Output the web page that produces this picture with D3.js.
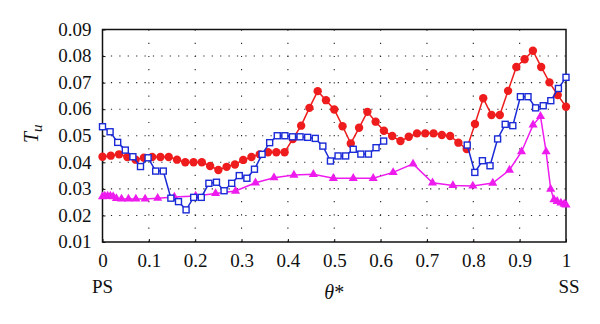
<!DOCTYPE html>
<html>
<head>
<meta charset="utf-8">
<script src="https://cdn.jsdelivr.net/npm/d3@7"></script>
<style>
  html, body { margin: 0; padding: 0; background: #fff; }
  svg { display: block; }
  text { font-family: "Liberation Serif", "DejaVu Serif", "Times New Roman", Times, serif; fill: #111; }
</style>
</head>
<body>
<svg id="chart" width="600" height="324"></svg>
<script>
// Turbulence intensity Tu around the blade surface (θ* from PS to SS)
const xTicks = [0, 0.1, 0.2, 0.3, 0.4, 0.5, 0.6, 0.7, 0.8, 0.9, 1];
const xTickLabels = ["0", "0.1", "0.2", "0.3", "0.4", "0.5", "0.6", "0.7", "0.8", "0.9", "1"];
const yTicks = [0.01, 0.02, 0.03, 0.04, 0.05, 0.06, 0.07, 0.08, 0.09];
const yTickLabels = ["0.01", "0.02", "0.03", "0.04", "0.05", "0.06", "0.07", "0.08", "0.09"];

// Red series: 57 equally spaced stations (i / 56)
const redTu = [
  0.0421, 0.0425, 0.0430, 0.0420, 0.0410, 0.0417, 0.0420, 0.0420, 0.0420, 0.0410,
  0.0400, 0.0400, 0.0400, 0.0386, 0.0371, 0.0383, 0.0392, 0.0409, 0.0420, 0.0430,
  0.0438, 0.0438, 0.0438, 0.0488, 0.0538, 0.0605, 0.0668, 0.0634, 0.0599, 0.0536,
  0.0471, 0.0530, 0.0590, 0.0553, 0.0519, 0.0499, 0.0480, 0.0496, 0.0509, 0.0509,
  0.0509, 0.0503, 0.0499, 0.0474, 0.0450, 0.0544, 0.0641, 0.0578, 0.0578, 0.0669,
  0.0759, 0.0788, 0.0820, 0.0759, 0.0701, 0.0653, 0.0609
];

// Blue series: 62 equally spaced stations (i / 61), no data between 0.62 and 0.77
const blueTu = [
  0.0534, 0.0515, 0.0475, 0.0446, 0.0421, 0.0384, 0.0417, 0.0367, 0.0367, 0.0265,
  0.0252, 0.0221, 0.0268, 0.0268, 0.0321, 0.0325, 0.0293, 0.0321, 0.0350, 0.0340,
  0.0374, 0.0430, 0.0474, 0.0500, 0.0500, 0.0496, 0.0496, 0.0494, 0.0490, 0.0461,
  0.0405, 0.0424, 0.0424, 0.0449, 0.0431, 0.0431, 0.0455, 0.0480,
  null, null, null, null, null, null, null, null, null, null,
  0.0465, 0.0362, 0.0406, 0.0387, 0.0488, 0.0543, 0.0538, 0.0647, 0.0647, 0.0605,
  0.0613, 0.0632, 0.0678, 0.0720
];

// Magenta series: stations clustered near both ends
const magentaTheta = [
  0, 0.005, 0.011, 0.017, 0.023, 0.030, 0.041, 0.056, 0.072, 0.092,
  0.119, 0.155, 0.201, 0.244, 0.287, 0.330, 0.370, 0.413, 0.455, 0.498,
  0.541, 0.584, 0.627, 0.670, 0.712, 0.756, 0.799, 0.842, 0.878, 0.904,
  0.929, 0.945, 0.957, 0.967, 0.974, 0.981, 0.989, 0.996, 1.0
];
const magentaTu = [
  0.0271, 0.0273, 0.0273, 0.0273, 0.0271, 0.0264, 0.0262, 0.0262, 0.0262, 0.0262,
  0.0265, 0.0269, 0.0273, 0.0283, 0.0292, 0.0323, 0.0342, 0.0352, 0.0355, 0.0340,
  0.0340, 0.0340, 0.0362, 0.0394, 0.0323, 0.0313, 0.0311, 0.0322, 0.0371, 0.0440,
  0.0541, 0.0573, 0.0440, 0.0299, 0.0260, 0.0253, 0.0247, 0.0243, 0.0240
];

const red = redTu.map((v, i) => ({ x: i / 56, y: v }));
const blue = blueTu.map((v, i) => ({ x: i / 61, y: v }));
const magenta = magentaTu.map((v, i) => ({ x: magentaTheta[i], y: v }));

const FONT = "'Liberation Serif', 'DejaVu Serif', 'Times New Roman', Times, serif";
const svg = d3.select("#chart").attr("font-family", FONT);
const plotLeft = 102.5, plotRight = 566, plotTop = 29.5, plotBottom = 242;

const x = d3.scaleLinear().domain([0, 1]).range([plotLeft, plotRight]);
const y = d3.scaleLinear().domain([0.01, 0.09]).range([plotBottom, plotTop]);

// dotted grid
const grid = svg.append("g");
grid.selectAll("line.h").data(yTicks.slice(1, -1)).join("line")
  .attr("class", "h")
  .attr("x1", plotLeft).attr("x2", plotRight)
  .attr("y1", d => y(d)).attr("y2", d => y(d))
  .attr("stroke", "#222").attr("stroke-width", 1.1)
  .attr("stroke-dasharray", "1.2,7.2");
grid.selectAll("line.v").data(xTicks.slice(1, -1)).join("line")
  .attr("class", "v")
  .attr("x1", d => x(d)).attr("x2", d => x(d))
  .attr("y1", plotTop).attr("y2", plotBottom)
  .attr("stroke", "#222").attr("stroke-width", 1.1)
  .attr("stroke-dasharray", "1.2,12");

// axes with short inward ticks
const xAxis = d3.axisBottom(x).tickValues(xTicks).tickSizeInner(-3).tickSizeOuter(0)
  .tickFormat((d, i) => xTickLabels[i]).tickPadding(12);
const gx = svg.append("g").attr("transform", `translate(0,${plotBottom})`).call(xAxis);
const yAxis = d3.axisLeft(y).tickValues(yTicks).tickSizeInner(-3).tickSizeOuter(0)
  .tickFormat((d, i) => yTickLabels[i]).tickPadding(11);
const gy = svg.append("g").attr("transform", `translate(${plotLeft},0)`).call(yAxis);
[gx, gy].forEach(g => {
  g.attr("font-family", FONT);
  g.select(".domain").remove();
  g.selectAll("line").attr("stroke", "#111");
  g.selectAll("text").attr("font-family", FONT).attr("font-size", 19).attr("fill", "#111");
});
gy.selectAll("text").attr("dy", "0.3em");
gx.selectAll("text").attr("dy", "0.68em");

// frame
svg.append("rect")
  .attr("x", plotLeft).attr("y", plotTop)
  .attr("width", plotRight - plotLeft).attr("height", plotBottom - plotTop)
  .attr("fill", "none").attr("stroke", "#111").attr("stroke-width", 1.5);

const line = d3.line().defined(d => d.y !== null).x(d => x(d.x)).y(d => y(d.y));

// magenta triangles
const cMag = "#ee1bee";
svg.append("path").datum(magenta).attr("d", line)
  .attr("fill", "none").attr("stroke", cMag).attr("stroke-width", 1.5);
const tri = d3.symbol().type(d3.symbolTriangle).size(36);
svg.append("g").selectAll("path").data(magenta).join("path")
  .attr("d", tri).attr("transform", d => `translate(${x(d.x)},${y(d.y)})`)
  .attr("fill", cMag);

// red circles
const cRed = "#ee1c1c";
svg.append("path").datum(red).attr("d", line)
  .attr("fill", "none").attr("stroke", cRed).attr("stroke-width", 1.5);
svg.append("g").selectAll("circle").data(red).join("circle")
  .attr("cx", d => x(d.x)).attr("cy", d => y(d.y)).attr("r", 4.2)
  .attr("fill", cRed);

// blue open squares
const cBlue = "#1a2ad6";
svg.append("path").datum(blue).attr("d", line)
  .attr("fill", "none").attr("stroke", cBlue).attr("stroke-width", 1.5);
svg.append("g").selectAll("rect").data(blue.filter(d => d.y !== null)).join("rect")
  .attr("x", d => x(d.x) - 3).attr("y", d => y(d.y) - 3)
  .attr("width", 6).attr("height", 6)
  .attr("fill", "#fff").attr("stroke", cBlue).attr("stroke-width", 1.4);

// labels
svg.append("text").attr("x", x(0)).attr("y", 293).attr("text-anchor", "middle")
  .attr("font-family", FONT).attr("font-size", 19).text("PS");
svg.append("text").attr("x", x(1) + 3).attr("y", 293).attr("text-anchor", "middle")
  .attr("font-family", FONT).attr("font-size", 19).text("SS");
const xt = svg.append("text").attr("x", (plotLeft + plotRight) / 2).attr("y", 299)
  .attr("text-anchor", "middle").attr("font-family", FONT).attr("font-size", 20);
xt.append("tspan").attr("font-style", "italic").text("θ");
xt.append("tspan").text("*");
const yt = svg.append("text")
  .attr("transform", `translate(38,${(plotTop + plotBottom) / 2 - 2}) rotate(-90)`)
  .attr("text-anchor", "middle").attr("font-family", FONT).attr("font-size", 20);
yt.append("tspan").attr("font-style", "italic").text("T");
yt.append("tspan").attr("font-style", "italic").attr("font-size", 15).attr("dy", 4).text("u");
</script>
</body>
</html>
